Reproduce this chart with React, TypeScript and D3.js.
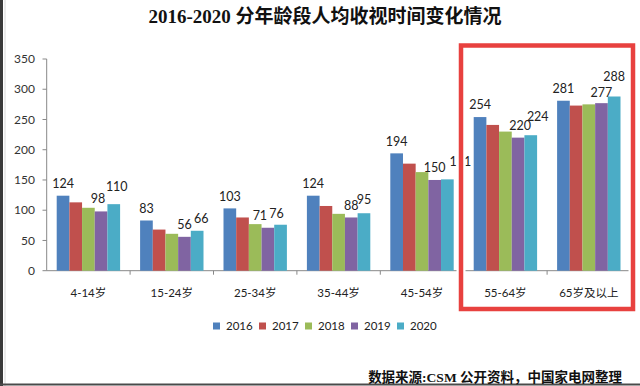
import React from "react";
import * as d3 from "d3";

const categories = ["4-14岁", "15-24岁", "25-34岁", "35-44岁", "45-54岁", "55-64岁", "65岁及以上"];
const seriesNames = ["2016", "2017", "2018", "2019", "2020"];
const v2016 = [124, 83, 103, 124, 194, 254, 281];
const v2017 = [113, 68, 88, 107, 177, 241, 273];
const v2018 = [104, 61, 77, 94, 163, 230, 275];
const v2019 = [98, 56, 71, 88, 150, 220, 277];
const v2020 = [110, 66, 76, 95, 151, 224, 288];
const yTicks = [0, 50, 100, 150, 200, 250, 300, 350];
const labeledSeries = [0, 3, 4];

const title = "2016-2020 分年龄段人均收视时间变化情况";
const source = "数据来源:CSM 公开资料，中国家电网整理";

// styles
const colors = ["#4f81bd", "#c0504d", "#9bbb59", "#8064a2", "#4bacc6"];
// per-category label nudges [dx, lift]
const cyanNudge: [number, number][] = [[3, 18], [4, 12], [-4, 11.5], [0, 14], [13, 18], [7, 19], [0, 20]];
const purpleNudge: [number, number][] = [[-3, 12.5], [0, 12], [-8, 12.5], [0, 12], [0, 12], [2, 12.5], [0, 11]];

const W = 640;
const H = 386;

export default function App() {
  const series = [v2016, v2017, v2018, v2019, v2020];
  const x = d3.scaleBand<string>().domain(categories).range([46.7, 630.5]).padding(0);
  const inner = d3
    .scaleBand<string>()
    .domain(seriesNames)
    .range([10, x.bandwidth() - 10])
    .padding(0);
  const y = d3.scaleLinear().domain([0, 350]).range([270.7, 59]);
  const font = "Lato, 'Noto Sans CJK SC', sans-serif";

  return (
    <svg
      width={W}
      height={H}
      style={{ position: "absolute", left: 0, top: 0, background: "#fff" }}
    >
      <rect x={0} y={0} width={W} height={H} fill="#fff" />
      {/* frame edges */}
      <line x1={1.5} x2={1.5} y1={0} y2={H} stroke="#3a3a3a" strokeWidth={3} />
      <line x1={5} x2={5} y1={0} y2={H} stroke="#d8d8d8" strokeWidth={1} />
      <line x1={0} x2={W} y1={384.5} y2={384.5} stroke="#4a4a4a" strokeWidth={2} />

      <text
        x={325}
        y={23}
        textAnchor="middle"
        fontSize={19}
        fontWeight="bold"
        fontFamily="'Liberation Serif', 'Noto Sans CJK SC', serif"
        fill="#111"
      >
        {title}
      </text>

      {/* y axis */}
      <line x1={46.7} x2={46.7} y1={y(350)} y2={y(0)} stroke="#888" strokeWidth={1} />
      {yTicks.map((t) => (
        <g key={t}>
          <line x1={42.5} x2={46.7} y1={y(t)} y2={y(t)} stroke="#888" />
          <text
            x={35}
            y={y(t)}
            dy="0.35em"
            textAnchor="end"
            fontSize={12}
            fontFamily={font}
            fill="#333"
          >
            {t}
          </text>
        </g>
      ))}

      {/* x axis */}
      <line x1={46.7} x2={630.5} y1={y(0)} y2={y(0)} stroke="#888" strokeWidth={1} />
      {categories.map((c, i) => (
        <line
          key={"xt" + i}
          x1={(x(c) as number) + x.bandwidth()}
          x2={(x(c) as number) + x.bandwidth()}
          y1={y(0)}
          y2={y(0) + 4}
          stroke="#888"
        />
      ))}

      {/* bars */}
      {series.map((vals, si) =>
        vals.map((v, ci) => (
          <rect
            key={`b${si}-${ci}`}
            x={(x(categories[ci]) as number) + (inner(seriesNames[si]) as number)}
            y={y(v)}
            width={inner.bandwidth()}
            height={y(0) - y(v)}
            fill={colors[si]}
          />
        ))
      )}

      {/* value labels */}
      {labeledSeries.map((si) =>
        series[si].map((v, ci) => {
          const cx =
            (x(categories[ci]) as number) + (inner(seriesNames[si]) as number) + inner.bandwidth() / 2;
          const [dx, lift] = si === 4 ? cyanNudge[ci] : si === 3 ? purpleNudge[ci] : [0, 12];
          return (
            <text
              key={`l${si}-${ci}`}
              x={cx + dx}
              y={y(v) - lift}
              dy="0.35em"
              textAnchor="middle"
              fontSize={12.5}
              fontFamily={font}
              fill="#222"
            >
              {v}
            </text>
          );
        })
      )}

      {/* category labels */}
      {categories.map((c) => (
        <text
          key={"c" + c}
          x={(x(c) as number) + x.bandwidth() / 2}
          y={293}
          dy="0.35em"
          textAnchor="middle"
          fontSize={11.5}
          fontFamily={font}
          fill="#222"
        >
          {c}
        </text>
      ))}

      {/* highlight box */}
      <rect x={461} y={45.5} width={172} height={263.5} fill="none" stroke="#fff" strokeWidth={9} />
      <rect x={461} y={45.5} width={172} height={263.5} fill="none" stroke="#e8413f" strokeWidth={4.5} />

      {/* legend */}
      {seriesNames.map((s, i) => (
        <g key={"lg" + s} transform={`translate(${213 + i * 46},326)`}>
          <rect x={0} y={-3.5} width={7} height={7} fill={colors[i]} />
          <text x={13} y={0} dy="0.35em" fontSize={11.5} fontFamily={font} fill="#222">
            {s}
          </text>
        </g>
      ))}

      <text
        x={622}
        y={377}
        dy="0.35em"
        textAnchor="end"
        fontSize={13.5}
        fontWeight="bold"
        fontFamily="'Liberation Serif', 'Noto Sans CJK SC', serif"
        fill="#111"
      >
        {source}
      </text>
    </svg>
  );
}
